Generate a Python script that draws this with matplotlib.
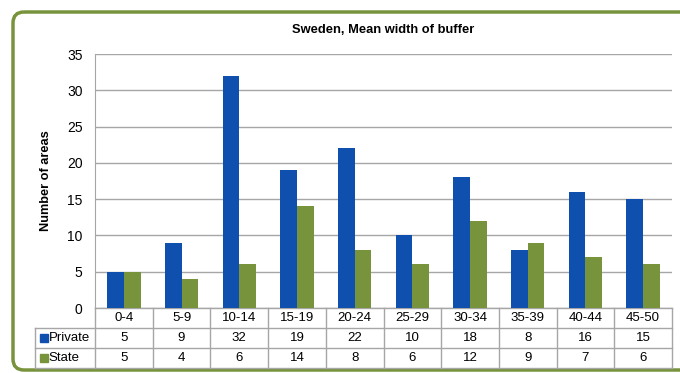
import numpy as np
import matplotlib.pyplot as plt
from matplotlib.patches import FancyBboxPatch, Rectangle
from matplotlib.transforms import blended_transform_factory

plt.rcParams['font.family'] = ['Liberation Sans', 'DejaVu Sans']

categories = ['0-4', '5-9', '10-14', '15-19', '20-24', '25-29', '30-34', '35-39', '40-44', '45-50']
private = [5, 9, 32, 19, 22, 10, 18, 8, 16, 15]
state = [5, 4, 6, 14, 8, 6, 12, 9, 7, 6]
series_names = ['Private', 'State']

blue = '#0F4FAE'
green = '#77933C'
grid_col = '#A6A6A6'
fs = 9.5

fig = plt.figure(figsize=(6.8, 3.73), dpi=100)
W, H = 680, 373

# rounded frame around the whole chart, drawn in pixel units
bg = fig.add_axes([0, 0, 1, 1], zorder=-1)
bg.set_xlim(0, W)
bg.set_ylim(H, 0)
bg.axis('off')
bg.add_patch(FancyBboxPatch((13, 12), 700, 358,
                            boxstyle='round,pad=0,rounding_size=11',
                            fill=False, edgecolor=green, linewidth=2.5,
                            clip_on=False))

ax = fig.add_axes([95 / W, 1 - 308 / H, 577 / W, 254 / H])
ax.patch.set_alpha(0)
x = np.arange(len(categories))
bw = 0.29
ax.bar(x - bw / 2, private, bw, color=blue, zorder=3)
ax.bar(x + bw / 2, state, bw, color=green, zorder=3)

ax.set_xlim(-0.5, len(categories) - 0.5)
ax.set_ylim(0, 35)
ax.set_yticks(range(0, 36, 5))
ax.yaxis.grid(True, color=grid_col, linewidth=1, zorder=0)
ax.set_xticks([])
ax.tick_params(axis='y', length=0, labelsize=10, pad=9)
for s in ['top', 'right', 'bottom']:
    ax.spines[s].set_visible(False)
ax.spines['left'].set_color(grid_col)

ax.set_title('Sweden, Mean width of buffer', fontsize=9.3, fontweight='bold', pad=15)
ax.set_ylabel('Number of areas', fontsize=9.2, fontweight='bold', labelpad=11)

# data table under the plot
tr = blended_transform_factory(ax.transData, ax.transAxes)
row_h = 20 / 254
left_x = -0.5 - 60 / 57.7
n = len(categories)
line_kw = dict(color=grid_col, linewidth=1, transform=tr, clip_on=False)

# horizontal lines
ax.plot([-0.5, n - 0.5], [0, 0], **line_kw)
for k in range(1, 4):
    ax.plot([left_x, n - 0.5], [-k * row_h, -k * row_h], **line_kw)
# vertical lines
for i in range(n + 1):
    ax.plot([i - 0.5, i - 0.5], [0, -3 * row_h], **line_kw)
ax.plot([left_x, left_x], [-row_h, -3 * row_h], **line_kw)

txt_kw = dict(transform=tr, ha='center', va='center', fontsize=fs, clip_on=False)
for i, c in enumerate(categories):
    ax.text(i, -0.5 * row_h, c, **txt_kw)
    ax.text(i, -1.5 * row_h, str(private[i]), **txt_kw)
    ax.text(i, -2.5 * row_h, str(state[i]), **txt_kw)

for r, (name, col) in enumerate(zip(series_names, [blue, green])):
    yc = -(1.5 + r) * row_h
    ax.add_patch(Rectangle((left_x + 0.08, yc - 0.017), 0.15, 0.034,
                           transform=tr, color=col, clip_on=False))
    ax.text(left_x + 0.24, yc, name, transform=tr, ha='left', va='center',
            fontsize=fs, clip_on=False)

fig.savefig('out.png', dpi=100)
